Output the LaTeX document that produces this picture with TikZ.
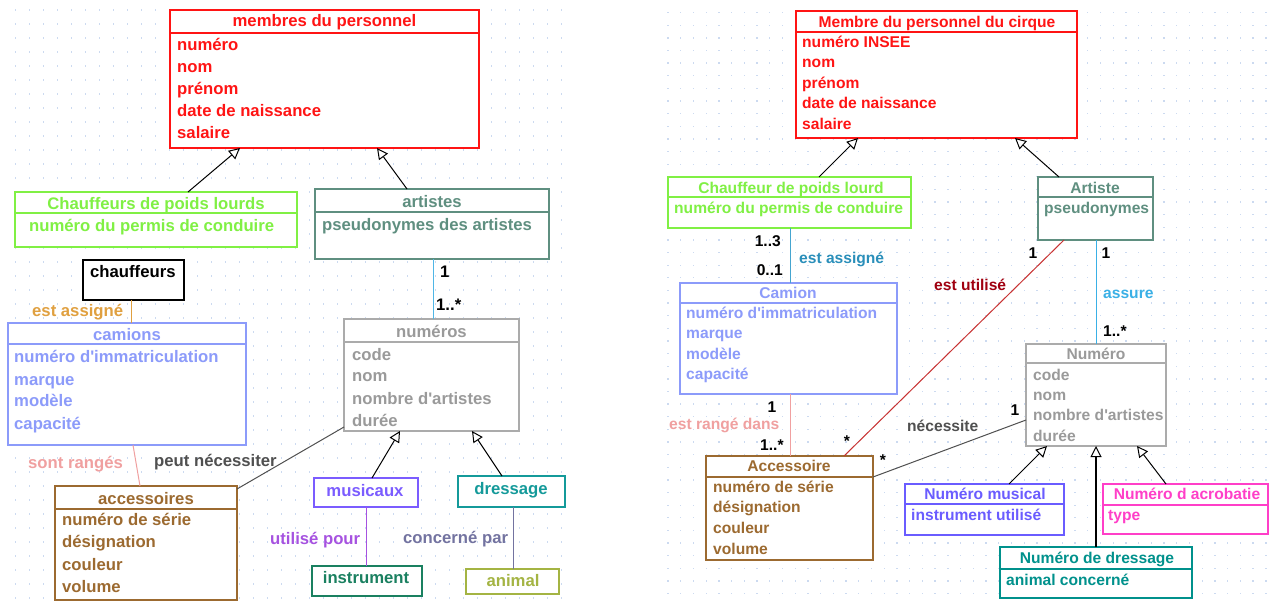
\documentclass[tikz,border=0pt]{standalone}
\usepackage{fontspec}
\setmainfont{Liberation Sans}[Ligatures=TeXOff]
\usetikzlibrary{arrows.meta}
\definecolor{cRed}{HTML}{FF1414}
\definecolor{cGreen}{HTML}{80F044}
\definecolor{cArt}{HTML}{5F8F80}
\definecolor{cCam}{HTML}{8C9BFA}
\definecolor{cNum}{HTML}{9A9A9A}
\definecolor{cNumB}{HTML}{ABABAB}
\definecolor{cAcc}{HTML}{9C6A30}
\definecolor{cMus}{HTML}{7B5CFF}
\definecolor{cDre}{HTML}{149A9A}
\definecolor{cIns}{HTML}{1A8060}
\definecolor{cAni}{HTML}{A4B443}
\definecolor{cOrange}{HTML}{E0A040}
\definecolor{cPink}{HTML}{F0A0A0}
\definecolor{cDark}{HTML}{505050}
\definecolor{cPurple}{HTML}{A652E0}
\definecolor{cSlate}{HTML}{7373A0}
\definecolor{cBlue}{HTML}{4FB6E6}
\definecolor{cMusR}{HTML}{6A5CFF}
\definecolor{cAcro}{HTML}{FF3FC8}
\definecolor{cDreR}{HTML}{00918C}
\definecolor{cBlueR}{HTML}{2A8FBA}
\definecolor{cBlueRL}{HTML}{45A5D0}
\definecolor{cRedDark}{HTML}{A00010}
\definecolor{cRedLine}{HTML}{C83232}
\definecolor{cAssure}{HTML}{3AB0E6}
\definecolor{dotc}{HTML}{CCDAF0}
\newcommand\fontL{\fontsize{16.7}{18}\selectfont\bfseries}
\newcommand\fontR{\fontsize{15.6}{17}\selectfont\bfseries}
\tikzset{
  umlbox/.style={draw, fill=white, line width=1.2pt, inner sep=0pt, outer sep=0pt, anchor=north west},
  lt/.style={font=\fontL, inner sep=0pt, anchor=base west},
  ltc/.style={lt, anchor=base},
  rt/.style={font=\fontR, inner sep=0pt, anchor=base west},
  rtc/.style={rt, anchor=base},
  rte/.style={rt, anchor=base east},
  gen/.style={draw=black, line width=1pt, -{Triangle[length=11pt, width=11pt, fill=white, line width=1pt]}},
  assoc/.style={line width=1pt},
}
\begin{document}
\begin{tikzpicture}[x=1pt,y=-1pt]
\useasboundingbox (0,0) rectangle (1269,603);
\fill[white] (0,0) rectangle (1269,603);
% grids
\foreach \i in {0,...,39}{\foreach \j in {0,...,42}{\fill[dotc] ({15.7+14*\i-0.65},{10+14*\j-0.65}) rectangle ++(1.3,1.3);}}
\foreach \i in {0,...,47}{\foreach \j in {0,...,46}{\fill[dotc] ({668+12.72*\i-0.65},{12.6+12.63*\j-0.65}) rectangle ++(1.3,1.3);}}

% ===== LEFT DIAGRAM =====
\node[umlbox, draw=cRed, minimum width=309, minimum height=138] (membres) at (170,10) {};
\node[umlbox, draw=cGreen, minimum width=282, minimum height=55] (chL) at (15,192) {};
\node[umlbox, draw=cArt, minimum width=234, minimum height=70] (artL) at (315,189) {};
\node[umlbox, draw=black, minimum width=101, minimum height=40] (chfL) at (83,260) {};
\node[umlbox, draw=cCam, minimum width=238, minimum height=122] (camL) at (8,323) {};
\node[umlbox, draw=cNumB, minimum width=175, minimum height=112] (numL) at (344,319) {};
\node[umlbox, draw=cAcc, minimum width=182, minimum height=114] (accL) at (55,486) {};
\node[umlbox, draw=cMus, minimum width=104, minimum height=29] (musL) at (314,478) {};
\node[umlbox, draw=cDre, minimum width=107, minimum height=31] (dreL) at (458,476) {};
\node[umlbox, draw=cIns, minimum width=110, minimum height=30] (insL) at (312,566) {};
\node[umlbox, draw=cAni, minimum width=93, minimum height=25] (aniL) at (466,569) {};
% separators
\draw[cRed, line width=1.2pt] ([yshift=-23pt]membres.north west) -- ([yshift=-23pt]membres.north east);
\draw[cGreen, line width=1.2pt] ([yshift=-21pt]chL.north west) -- ([yshift=-21pt]chL.north east);
\draw[cArt, line width=1.2pt] ([yshift=-23pt]artL.north west) -- ([yshift=-23pt]artL.north east);
\draw[cCam, line width=1.2pt] ([yshift=-21pt]camL.north west) -- ([yshift=-21pt]camL.north east);
\draw[cNumB, line width=1.2pt] ([yshift=-23pt]numL.north west) -- ([yshift=-23pt]numL.north east);
\draw[cAcc, line width=1.2pt] ([yshift=-23pt]accL.north west) -- ([yshift=-23pt]accL.north east);
% texts
\node[ltc, text=cRed] (tm0) at (324.5,26.5) {membres du personnel};
\node[lt, text=cRed] (tm1) at (177,50) {numéro};
\node[lt, text=cRed] (tm2) at (177,72.5) {nom};
\node[lt, text=cRed] (tm3) at (177,94.5) {prénom};
\node[lt, text=cRed] (tm4) at (177,116.5) {date de naissance};
\node[lt, text=cRed] (tm5) at (177,138.5) {salaire};
\node[ltc, text=cGreen] (tc0) at (156,209) {Chauffeurs de poids lourds};
\node[lt, text=cGreen] (tc1) at (29,231) {numéro du permis de conduire};
\node[ltc, text=cArt] (ta0) at (432,207.5) {artistes};
\node[lt, text=cArt] (ta1) at (322,230) {pseudonymes des artistes};
\node[lt, text=black] (tch) at (90,277) {chauffeurs};
\node[ltc, text=cCam] (tk0) at (127,340) {camions};
\node[lt, text=cCam] (tk1) at (14,362.3) {numéro d'immatriculation};
\node[lt, text=cCam] (tk2) at (14,385.3) {marque};
\node[lt, text=cCam] (tk3) at (14,406.7) {modèle};
\node[lt, text=cCam] (tk4) at (14,429.3) {capacité};
\node[ltc, text=cNum] (tn0) at (431.5,337.3) {numéros};
\node[lt, text=cNum] (tn1) at (352,360) {code};
\node[lt, text=cNum] (tn2) at (352,381.7) {nom};
\node[lt, text=cNum] (tn3) at (352,404) {nombre d'artistes};
\node[lt, text=cNum] (tn4) at (352,426.7) {durée};
\node[ltc, text=cAcc] (tx0) at (146,504) {accessoires};
\node[lt, text=cAcc] (tx1) at (62,525) {numéro de série};
\node[lt, text=cAcc] (tx2) at (62,547.7) {désignation};
\node[lt, text=cAcc] (tx3) at (62,570.7) {couleur};
\node[lt, text=cAcc] (tx4) at (62,592.3) {volume};
\node[ltc, text=cMus] (tmu) at (365,496) {musicaux};
\node[ltc, text=cDre] (tdr) at (511,494) {dressage};
\node[ltc, text=cIns] (tin) at (366,583.3) {instrument};
\node[ltc, text=cAni] (tan) at (513,586.7) {animal};
% connectors
\draw[gen] ([xshift=173pt]chL.north west) -- ([xshift=70pt]membres.south west);
\draw[gen] ([xshift=92pt]artL.north west) -- ([xshift=207pt]membres.south west);
\draw[assoc, cBlue] ([xshift=118pt]artL.south west) -- ([xshift=89pt]numL.north west);
\draw[assoc, cOrange] ([xshift=48pt]chfL.south west) -- ([xshift=123pt]camL.north west);
\draw[assoc, cPink] ([xshift=125pt]camL.south west) -- ([xshift=85pt]accL.north west);
\draw[assoc, cDark] ([yshift=-108pt]numL.north west) -- ([yshift=-3pt]accL.north east);
\draw[gen] ([xshift=58pt]musL.north west) -- ([xshift=56pt]numL.south west);
\draw[gen] ([xshift=44pt]dreL.north west) -- ([xshift=128pt]numL.south west);
\draw[assoc, cPurple] ([xshift=52pt]musL.south west) -- ([xshift=54pt]insL.north west);
\draw[assoc, cSlate] ([xshift=55pt]dreL.south west) -- ([xshift=47pt]aniL.north west);
% labels
\node[lt, text=black] (la1) at (440,277) {1};
\node[lt, text=black] (la2) at (436,310) {1..*};
\node[lt, text=cOrange] (la3) at (32,316) {est assigné};
\node[lt, text=cPink] (la4) at (28,468.3) {sont rangés};
\node[lt, text=cDark] (la5) at (154,466) {peut nécessiter};
\node[lt, text=cPurple] (la6) at (270,544) {utilisé pour};
\node[lt, text=cSlate] (la7) at (403,543.3) {concerné par};

% ===== RIGHT DIAGRAM =====
\node[umlbox, draw=cRed, minimum width=281, minimum height=127] (membR) at (796,11) {};
\node[umlbox, draw=cGreen, minimum width=243, minimum height=51] (chR) at (668,177) {};
\node[umlbox, draw=cArt, minimum width=115, minimum height=63] (artR) at (1038,177) {};
\node[umlbox, draw=cCam, minimum width=217, minimum height=111] (camR) at (680,283) {};
\node[umlbox, draw=cNumB, minimum width=140, minimum height=102] (numR) at (1026,344) {};
\node[umlbox, draw=cAcc, minimum width=167, minimum height=104] (accR) at (706,456) {};
\node[umlbox, draw=cMusR, minimum width=159, minimum height=51] (musR) at (905,484) {};
\node[umlbox, draw=cAcro, minimum width=165, minimum height=50] (acrR) at (1103,484) {};
\node[umlbox, draw=cDreR, minimum width=192, minimum height=51] (dreR) at (1000,547) {};
\draw[cRed, line width=1.2pt] ([yshift=-21pt]membR.north west) -- ([yshift=-21pt]membR.north east);
\draw[cGreen, line width=1.2pt] ([yshift=-20pt]chR.north west) -- ([yshift=-20pt]chR.north east);
\draw[cArt, line width=1.2pt] ([yshift=-20pt]artR.north west) -- ([yshift=-20pt]artR.north east);
\draw[cCam, line width=1.2pt] ([yshift=-20pt]camR.north west) -- ([yshift=-20pt]camR.north east);
\draw[cNumB, line width=1.2pt] ([yshift=-19pt]numR.north west) -- ([yshift=-19pt]numR.north east);
\draw[cAcc, line width=1.2pt] ([yshift=-21pt]accR.north west) -- ([yshift=-21pt]accR.north east);
\draw[cMusR, line width=1.2pt] ([yshift=-20pt]musR.north west) -- ([yshift=-20pt]musR.north east);
\draw[cAcro, line width=1.2pt] ([yshift=-21pt]acrR.north west) -- ([yshift=-21pt]acrR.north east);
\draw[cDreR, line width=1.2pt] ([yshift=-22pt]dreR.north west) -- ([yshift=-22pt]dreR.north east);
% texts
\node[rtc, text=cRed] (rm0) at (937,27.3) {Membre du personnel du cirque};
\node[rt, text=cRed] (rm1) at (802,47.3) {numéro INSEE};
\node[rt, text=cRed] (rm2) at (802,67.7) {nom};
\node[rt, text=cRed] (rm3) at (802,88) {prénom};
\node[rt, text=cRed] (rm4) at (802,108.7) {date de naissance};
\node[rt, text=cRed] (rm5) at (802,129.7) {salaire};
\node[rtc, text=cGreen] (rc0) at (791,193.3) {Chauffeur de poids lourd};
\node[rt, text=cGreen] (rc1) at (674,213.3) {numéro du permis de conduire};
\node[rtc, text=cArt] (ra0) at (1095,193.3) {Artiste};
\node[rt, text=cArt] (ra1) at (1044,213.3) {pseudonymes};
\node[rtc, text=cCam] (rk0) at (788,298.3) {Camion};
\node[rt, text=cCam] (rk1) at (686,318.3) {numéro d'immatriculation};
\node[rt, text=cCam] (rk2) at (686,338.5) {marque};
\node[rt, text=cCam] (rk3) at (686,359) {modèle};
\node[rt, text=cCam] (rk4) at (686,379.5) {capacité};
\node[rtc, text=cNum] (rn0) at (1096,359.3) {Numéro};
\node[rt, text=cNum] (rn1) at (1033,380) {code};
\node[rt, text=cNum] (rn2) at (1033,400) {nom};
\node[rt, text=cNum] (rn3) at (1033,420.7) {nombre d'artistes};
\node[rt, text=cNum] (rn4) at (1033,441) {durée};
\node[rtc, text=cAcc] (rx0) at (789,471.7) {Accessoire};
\node[rt, text=cAcc] (rx1) at (713,492.7) {numéro de série};
\node[rt, text=cAcc] (rx2) at (713,512.7) {désignation};
\node[rt, text=cAcc] (rx3) at (713,533.3) {couleur};
\node[rt, text=cAcc] (rx4) at (713,554) {volume};
\node[rtc, text=cMusR] (rmu0) at (985,499.3) {Numéro musical};
\node[rt, text=cMusR] (rmu1) at (911,520) {instrument utilisé};
\node[rtc, text=cAcro] (rac0) at (1187,499.3) {Numéro d acrobatie};
\node[rt, text=cAcro] (rac1) at (1108,520) {type};
\node[rtc, text=cDreR] (rdr0) at (1097,563.3) {Numéro de dressage};
\node[rt, text=cDreR] (rdr1) at (1006,585) {animal concerné};
% connectors
\draw[gen] ([xshift=151pt]chR.north west) -- ([xshift=62pt]membR.south west);
\draw[gen] ([xshift=21pt]artR.north west) -- ([xshift=219pt]membR.south west);
\draw[assoc, cBlueRL] ([xshift=122pt]chR.south west) -- ([xshift=110pt]camR.north west);
\draw[assoc, cRedLine] ([xshift=26pt]artR.south west) -- ([xshift=138pt]accR.north west);
\draw[assoc, cAssure] ([xshift=58pt]artR.south west) -- ([xshift=70pt]numR.north west);
\draw[assoc, cPink] ([xshift=110pt]camR.south west) -- ([xshift=84pt]accR.north west);
\draw[assoc, cDark] ([yshift=-76pt]numR.north west) -- ([yshift=-21pt]accR.north east);
\draw[gen] ([xshift=104pt]musR.north west) -- ([xshift=21pt]numR.south west);
\draw[gen] ([xshift=63pt]acrR.north west) -- ([xshift=111pt]numR.south west);
\draw[gen, line width=2pt] ([xshift=96pt]dreR.north west) -- ([xshift=70pt]numR.south west);
% labels
\node[rte, text=black] (rl1) at (781,246.7) {1..3};
\node[rte, text=black] (rl2) at (783,275) {0..1};
\node[rt, text=cBlueR] (rl3) at (799,263.3) {est assigné};
\node[rtc, text=black] (rl4) at (1033,258.3) {1};
\node[rtc, text=black] (rl5) at (1106,258.3) {1};
\node[rt, text=cRedDark] (rl6) at (934,290.7) {est utilisé};
\node[rt, text=cAssure] (rl7) at (1103,298.3) {assure};
\node[rt, text=black] (rl8) at (1103,336.7) {1..*};
\node[rtc, text=black] (rl9) at (772,412.3) {1};
\node[rt, text=cPink] (rl10) at (669,429.3) {est rangé dans};
\node[rt, text=black] (rl11) at (760,450) {1..*};
\node[rtc, text=black] (rl12) at (1015,415) {1};
\node[rt, text=cDark] (rl13) at (907,431.7) {nécessite};
\node[rtc, text=black] (rl14) at (847,446) {*};
\node[rtc, text=black] (rl15) at (883,465) {*};
\end{tikzpicture}
\end{document}
